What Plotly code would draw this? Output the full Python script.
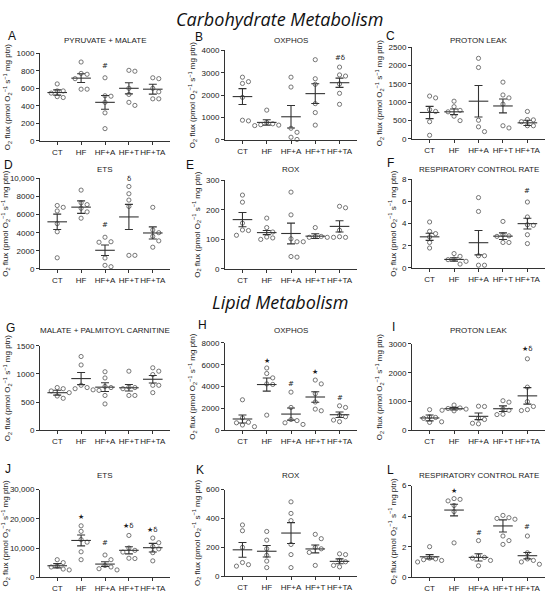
import plotly.graph_objects as go

groups = ["CT", "HF", "HF+A", "HF+T", "HF+TA"]

# ---- Carbohydrate metabolism ----
a_points = [[650, 570, 570, 545, 505, 495], [900, 770, 760, 710, 590, 590],
            [720, 515, 510, 440, 320, 140], [805, 795, 600, 530, 440, 405],
            [720, 710, 600, 560, 480, 480]]
a_mean = [552, 716, 440, 600, 590]
a_sem = [30, 50, 78, 64, 56]
a_marks = [(2, "#", 858)]

b_points = [[2800, 2600, 2520, 1900, 880, 850], [1330, 780, 720, 680, 660, 640],
            [2800, 2360, 520, 340, 120, 20], [3580, 2730, 2480, 1620, 1220, 660],
            [3250, 2900, 2850, 2500, 2080, 1590]]
b_mean = [1934, 782, 1033, 2066, 2553]
b_sem = [354, 120, 500, 442, 206]
b_marks = [(4, "#δ", 3660)]

c_points = [[1170, 1120, 800, 750, 470, 100], [1030, 880, 780, 740, 620, 500],
            [2200, 1950, 510, 330, 200], [1550, 1200, 1120, 950, 360, 300],
            [750, 530, 520, 470, 360, 360]]
c_mean = [722, 740, 1030, 900, 440]
c_sem = [167, 77, 430, 190, 72]
c_marks = []

d_points = [[7000, 6800, 6400, 5000, 4100, 1230], [8700, 7300, 7100, 6700, 6300, 5600],
            [3500, 3000, 2950, 1200, 400, 250], [9100, 8300, 7600, 6900, 1500, 1500],
            [6800, 4300, 4000, 3600, 3100, 2400]]
d_mean = [5200, 6820, 2060, 5740, 3970]
d_sem = [850, 690, 580, 1390, 670]
d_marks = [(2, "#", 4874), (3, "δ", 9950)]

e_points = [[250, 226, 155, 132, 130, 114], [172, 140, 125, 108, 105, 100],
            [260, 183, 102, 92, 42, 40], [140, 110, 110, 107, 107, 92],
            [212, 207, 131, 109, 107, 107]]
e_mean = [167, 123, 120, 111, 144]
e_sem = [24, 7, 35, 8, 19]
e_marks = []

f_points = [[4.15, 3.3, 3.1, 2.8, 2.3, 1.8], [1.3, 1.05, 0.8, 0.75, 0.6, 0.35],
            [6.35, 5.1, 1.1, 1.1, 0.25, 0.25], [4.2, 3.0, 2.9, 2.85, 2.3, 2.3],
            [5.95, 4.6, 3.9, 3.85, 3.0, 2.2]]
f_mean = [2.81, 0.77, 2.28, 2.87, 4.0]
f_sem = [0.32, 0.15, 1.1, 0.3, 0.48]
f_marks = [(4, "#", 6.96)]

# ---- Lipid metabolism ----
g_points = [[760, 740, 700, 670, 610, 570], [1310, 1160, 800, 760, 740, 720],
            [1040, 930, 780, 760, 710, 620, 470], [1050, 770, 760, 740, 620, 620],
            [1110, 1050, 990, 800, 800, 670]]
g_mean = [669, 919, 767, 756, 907]
g_sem = [43, 107, 78, 58, 67]
g_marks = []

h_points = [[2800, 1150, 750, 700, 500, 350], [5700, 5200, 4800, 4250, 4200, 1400],
            [3500, 2100, 1000, 900, 700, 550], [4600, 4250, 3350, 2600, 1950, 1800],
            [2250, 2100, 1400, 1250, 950, 800]]
h_mean = [1048, 4192, 1497, 3054, 1437]
h_sem = [370, 600, 550, 480, 255]
h_marks = [(1, "★", 6377), (2, "#", 4251), (3, "★", 5329), (4, "#", 2934)]

i_points = [[720, 470, 450, 420, 300, 280], [880, 780, 760, 740, 700, 680],
            [840, 830, 420, 380, 250, 230], [1030, 980, 750, 700, 560, 550],
            [2480, 1500, 1000, 830, 720, 690]]
i_mean = [433, 753, 490, 753, 1198]
i_sem = [100, 46, 114, 97, 285]
i_marks = [(4, "★δ", 2806)]

j_points = [[6000, 5000, 3800, 3500, 2800, 2500], [17600, 15700, 12900, 12000, 8700, 6000],
            [7600, 6000, 4000, 3500, 2900, 2500], [14300, 10000, 9200, 8600, 6500, 6400],
            [13400, 11800, 10500, 9700, 8400, 5600]]
j_mean = [3930, 12580, 4500, 9210, 10110]
j_sem = [720, 1850, 790, 1230, 1460]
j_marks = [(1, "★", 20450), (2, "#", 11570), (3, "★δ", 17400), (4, "★δ", 16070)]

k_points = [[355, 315, 200, 95, 80, 70], [310, 250, 190, 145, 105, 60],
            [515, 435, 385, 220, 150, 60], [290, 260, 200, 190, 165, 75],
            [150, 155, 110, 100, 75, 65]]
k_mean = [183, 173, 299, 189, 103]
k_sem = [51, 40, 72, 27, 17]
k_marks = []

l_points = [[2.0, 1.25, 1.2, 1.15, 1.1, 1.0], [5.15, 5.1, 5.0, 4.7, 4.3, 2.25],
            [2.4, 1.4, 1.3, 1.25, 1.1, 0.75], [4.05, 3.9, 3.85, 3.8, 2.7, 2.4, 2.15],
            [2.7, 1.6, 1.2, 1.1, 1.0, 0.85]]
l_mean = [1.34, 4.4, 1.3, 3.36, 1.41]
l_sem = [0.14, 0.38, 0.24, 0.4, 0.21]
l_marks = [(1, "★", 5.67), (2, "#", 2.92), (4, "#", 3.31)]

titles = ["PYRUVATE + MALATE", "OXPHOS", "PROTON LEAK", "ETS", "ROX",
          "RESPIRATORY CONTROL RATE", "MALATE + PALMITOYL CARNITINE", "OXPHOS",
          "PROTON LEAK", "ETS", "ROX", "RESPIRATORY CONTROL RATE"]
letters = list("ABCDEFGHIJKL")

a_ticks = [0, 200, 400, 600, 800, 1000]
b_ticks = [0, 1000, 2000, 3000, 4000]
c_ticks = [0, 500, 1000, 1500, 2000, 2500]
d_ticks = [0, 2000, 4000, 6000, 8000, 10000]
e_ticks = [0, 100, 200, 300]
f_ticks = [0, 2, 4, 6, 8]
g_ticks = [0, 500, 1000, 1500]
h_ticks = [0, 2000, 4000, 6000, 8000]
i_ticks = [0, 1000, 2000, 3000]
j_ticks = [0, 10000, 20000, 30000]
k_ticks = [0, 200, 400, 600]
l_ticks = [0, 2, 4, 6]

panels = [
    (a_points, a_mean, a_sem, a_marks, a_ticks),
    (b_points, b_mean, b_sem, b_marks, b_ticks),
    (c_points, c_mean, c_sem, c_marks, c_ticks),
    (d_points, d_mean, d_sem, d_marks, d_ticks),
    (e_points, e_mean, e_sem, e_marks, e_ticks),
    (f_points, f_mean, f_sem, f_marks, f_ticks),
    (g_points, g_mean, g_sem, g_marks, g_ticks),
    (h_points, h_mean, h_sem, h_marks, h_ticks),
    (i_points, i_mean, i_sem, i_marks, i_ticks),
    (j_points, j_mean, j_sem, j_marks, j_ticks),
    (k_points, k_mean, k_sem, k_marks, k_ticks),
    (l_points, l_mean, l_sem, l_marks, l_ticks),
]

W, H = 550, 597
XR = [-0.72, 4.72]
cols = [(40, 170), (225, 357), (412, 545)]
boxes = [(50, 139), (47, 138), (44, 137), (177, 269), (179, 269), (178, 268),
         (347, 433), (344, 433), (345, 433), (493, 582), (493, 581), (489, 582)]
letter_pos = [(12, 32), (199, 33), (390, 32), (8, 163), (190, 163), (390, 161),
              (10, 329), (202, 326), (393, 328), (8, 472), (200, 473), (390, 473)]
title_y = [37, 168, 331, 479]

FONT = "Liberation Sans"
TICKFONT = dict(family=FONT, size=8, color="#222")
AXCOL = "#333"
YTITLE = "O<sub>2</sub> flux (pmol O<sub>2</sub><sup>−1</sup> s<sup>−1</sup> mg ptn)"


def fmt(v):
    if v >= 10000:
        return f"{v:,}"
    return str(v)


def swarm(vals, xs, ys, step=6.0, gap=5.5):
    # simple beeswarm, in pixel units
    offs = [0.0] * len(vals)
    placed = []
    for i in sorted(range(len(vals)), key=lambda k: -vals[k]):
        y = vals[i] * ys
        k = 0
        done = False
        while not done:
            cands = [0] if k == 0 else [k, -k]
            for c in cands:
                x = c * step
                if all((x - px) ** 2 + (y - py) ** 2 >= gap ** 2 for px, py in placed):
                    placed.append((x, y))
                    offs[i] = x / xs
                    done = True
                    break
            k += 1
    return offs


fig = go.Figure()
annos = []
layout = {}

for n, (pts, mean, sem, marks, ticks) in enumerate(panels):
    idx = n + 1
    col = n % 3
    row = n // 3
    x0, x1 = cols[col]
    top, bot = boxes[n]
    ymax = ticks[-1]
    xs = (x1 - x0) / (XR[1] - XR[0])
    ys = (bot - top) / ymax
    xa = "x" if idx == 1 else f"x{idx}"
    ya = "y" if idx == 1 else f"y{idx}"

    px, py = [], []
    for g, vals in enumerate(pts):
        offs = swarm(vals, xs, ys)
        px += [g + o for o in offs]
        py += vals
    fig.add_trace(go.Scatter(
        x=px, y=py, mode="markers", xaxis=xa, yaxis=ya, cliponaxis=False,
        marker=dict(symbol="circle-open", size=4.2, color="#555",
                    line=dict(width=0.8, color="#555")),
        showlegend=False, hoverinfo="y"))
    fig.add_trace(go.Scatter(
        x=list(range(5)), y=mean, mode="markers", xaxis=xa, yaxis=ya, cliponaxis=False,
        marker=dict(symbol="line-ew-open", size=14, color="#333",
                    line=dict(width=1.1, color="#333")),
        error_y=dict(type="data", array=sem, visible=True, width=4,
                     thickness=1.1, color="#333"),
        showlegend=False, hoverinfo="y"))

    layout["xaxis" if idx == 1 else f"xaxis{idx}"] = dict(
        domain=[x0 / W, x1 / W], anchor=ya, range=XR,
        tickvals=list(range(5)), ticktext=groups, tickfont=TICKFONT, tickangle=0,
        showline=True, linecolor=AXCOL, linewidth=1, ticks="outside",
        ticklen=3, tickcolor=AXCOL, showgrid=False, zeroline=False,
        fixedrange=True)
    layout["yaxis" if idx == 1 else f"yaxis{idx}"] = dict(
        domain=[1 - bot / H, 1 - top / H], anchor=xa, range=[0, ymax],
        tickvals=ticks, ticktext=[fmt(t) for t in ticks], tickfont=TICKFONT,
        showline=True, linecolor=AXCOL, linewidth=1, ticks="outside",
        ticklen=3, tickcolor=AXCOL, showgrid=False, zeroline=False,
        title=dict(text=YTITLE, font=dict(family=FONT, size=8, color="#222"),
                   standoff=4),
        fixedrange=True)

    lx, ly = letter_pos[n]
    annos.append(dict(xref="paper", yref="paper", x=lx / W, y=1 - ly / H,
                      text=letters[n], showarrow=False, xanchor="center",
                      yanchor="middle", font=dict(family=FONT, size=12, color="#111")))
    annos.append(dict(xref="paper", yref="paper", x=(x0 + x1) / 2 / W,
                      y=1 - title_y[row] / H, text=titles[n], showarrow=False,
                      xanchor="center", yanchor="middle",
                      font=dict(family=FONT, size=8, color="#222")))
    for g, txt, yv in marks:
        annos.append(dict(xref=xa, yref=ya, x=g, y=yv, text=txt, showarrow=False,
                          xanchor="center", yanchor="middle",
                          font=dict(family="DejaVu Sans", size=7, color="#222")))

for txt, yy in [("Carbohydrate Metabolism", 15), ("Lipid Metabolism", 303)]:
    annos.append(dict(xref="paper", yref="paper", x=280 / W, y=1 - yy / H,
                      text=f"<i>{txt}</i>", showarrow=False, xanchor="center",
                      yanchor="middle", font=dict(family="Open Sans", size=18, color="#111")))

fig.update_layout(width=W, height=H, margin=dict(l=0, r=0, t=0, b=0),
                  paper_bgcolor="white", plot_bgcolor="white",
                  annotations=annos, **layout)

# page margin off so the 550x597 figure fills the window exactly
fig.write_html("out.html", config={"displayModeBar": False},
               post_script="document.body.style.margin='0';"
                           "document.body.style.overflow='hidden';")
